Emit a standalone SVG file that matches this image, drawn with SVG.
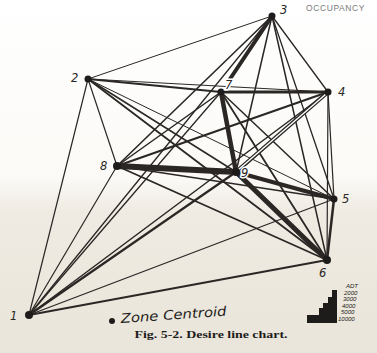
<svg xmlns="http://www.w3.org/2000/svg" width="377" height="353" viewBox="0 0 377 353">
<defs>
<linearGradient id="bg" x1="0" y1="0" x2="0" y2="1">
<stop offset="0" stop-color="#ffffff"/>
<stop offset="0.5" stop-color="#fbfaf7"/>
<stop offset="0.6" stop-color="#efebe2"/>
<stop offset="1" stop-color="#e9e5da"/>
</linearGradient>
<style>
.e{stroke:#2a2725;stroke-linecap:round;fill:none}
.n{fill:#1e1c1a}
.lbl{font-family:"DejaVu Sans","Liberation Sans",sans-serif;font-style:italic;font-size:11.5px;fill:#2a2725}
.halo{stroke:#ffffff;stroke-width:3px;paint-order:stroke}
.leg{font-family:"Liberation Sans","DejaVu Sans",sans-serif;font-style:italic;font-size:6px;fill:#1e1c1a}
</style>
</defs>
<rect width="377" height="353" fill="url(#bg)"/>
<text x="306" y="11" font-family="Liberation Sans, sans-serif" font-size="8.5" fill="#7a7a7a" letter-spacing="0.6">OCCUPANCY</text>
<g id="connectors">
<line class="e" x1="29" y1="315" x2="88" y2="79" stroke-width="1.2"/>
<line class="e" x1="29" y1="315" x2="272" y2="16" stroke-width="1.3"/>
<line class="e" x1="29" y1="315" x2="328" y2="92" stroke-width="1.5"/>
<line class="e" x1="29" y1="315" x2="334" y2="199" stroke-width="1.3"/>
<line class="e" x1="29" y1="315" x2="327" y2="260" stroke-width="1.8"/>
<line class="e" x1="29" y1="315" x2="221" y2="92" stroke-width="1.3"/>
<line class="e" x1="29" y1="315" x2="117" y2="166" stroke-width="1.2"/>
<line class="e" x1="29" y1="315" x2="236" y2="172" stroke-width="2.2"/>
<line class="e" x1="88" y1="79" x2="272" y2="16" stroke-width="1"/>
<line class="e" x1="88" y1="79" x2="328" y2="92" stroke-width="1.2"/>
<line class="e" x1="88" y1="79" x2="334" y2="199" stroke-width="1"/>
<line class="e" x1="88" y1="79" x2="327" y2="260" stroke-width="1.8"/>
<line class="e" x1="88" y1="79" x2="221" y2="92" stroke-width="1.8"/>
<line class="e" x1="88" y1="79" x2="117" y2="166" stroke-width="1.2"/>
<line class="e" x1="88" y1="79" x2="236" y2="172" stroke-width="1.5"/>
<line class="e" x1="272" y1="16" x2="328" y2="92" stroke-width="1.3"/>
<line class="e" x1="272" y1="16" x2="334" y2="199" stroke-width="1.3"/>
<line class="e" x1="272" y1="16" x2="327" y2="260" stroke-width="1.5"/>
<line class="e" x1="272" y1="16" x2="117" y2="166" stroke-width="1.6"/>
<line class="e" x1="272" y1="16" x2="236" y2="172" stroke-width="1.5"/>
<line class="e" x1="328" y1="92" x2="334" y2="199" stroke-width="1.2"/>
<line class="e" x1="328" y1="92" x2="327" y2="260" stroke-width="1.2"/>
<line class="e" x1="328" y1="92" x2="117" y2="166" stroke-width="2"/>
<line class="e" x1="334" y1="199" x2="327" y2="260" stroke-width="2.5"/>
<line class="e" x1="334" y1="199" x2="221" y2="92" stroke-width="1.5"/>
<line class="e" x1="334" y1="199" x2="117" y2="166" stroke-width="1.5"/>
<line class="e" x1="327" y1="260" x2="221" y2="92" stroke-width="1.8"/>
<line class="e" x1="327" y1="260" x2="117" y2="166" stroke-width="1.8"/>
<line class="e" x1="221" y1="92" x2="117" y2="166" stroke-width="1.5"/>
<line class="e" x1="328" y1="92" x2="236" y2="172" stroke-width="4"/>
<line x1="326" y1="94" x2="238" y2="170" stroke="#ffffff" stroke-width="1.4"/>
<line class="e" x1="328" y1="92" x2="221" y2="92" stroke-width="3"/>
<line class="e" x1="272" y1="16" x2="230" y2="79" stroke-width="4"/>
<line class="e" x1="334" y1="199" x2="236" y2="172" stroke-width="4"/>
<line class="e" x1="327" y1="260" x2="236" y2="172" stroke-width="5"/>
<line class="e" x1="221" y1="92" x2="236" y2="172" stroke-width="4.5"/>
<line class="e" x1="117" y1="166" x2="236" y2="172" stroke-width="6"/>
</g>
<g id="node1"><circle class="n" cx="29" cy="315" r="4"/><text class="lbl" x="10" y="320">1</text></g>
<g id="node2"><circle class="n" cx="88" cy="79" r="3.5"/><text class="lbl" x="71" y="82">2</text></g>
<g id="node3"><circle class="n" cx="272" cy="16" r="3.5"/><text class="lbl" x="280" y="14">3</text></g>
<g id="node4"><circle class="n" cx="328" cy="92" r="3.5"/><text class="lbl" x="338" y="96">4</text></g>
<g id="node5"><circle class="n" cx="334" cy="199" r="3.5"/><text class="lbl" x="342" y="203">5</text></g>
<g id="node6"><circle class="n" cx="327" cy="260" r="4"/><text class="lbl" x="319" y="277">6</text></g>
<g id="node7"><circle class="n" cx="221" cy="92" r="3.5"/><text class="lbl halo" x="225" y="89">7</text></g>
<g id="node8"><circle class="n" cx="117" cy="166" r="4"/><text class="lbl" x="100" y="170">8</text></g>
<g id="node9"><circle class="n" cx="236" cy="172" r="4"/><text class="lbl halo" x="241" y="177">9</text></g>
<g id="legend">
<circle class="n" cx="112" cy="321" r="3"/>
<text x="121" y="323" transform="rotate(-4 121 323)" font-family="DejaVu Sans, Liberation Sans, sans-serif" font-style="italic" font-size="13" fill="#1e1c1a" textLength="106" lengthAdjust="spacingAndGlyphs">Zone Centroid</text>
<path d="M307 323 V315 H319 V308 H323 V303 H328 V297 H332 V290 H337 V323 Z" fill="#1e1c1a"/>
<text class="leg" x="346" y="288">ADT</text>
<text class="leg" x="344" y="294.5">2000</text>
<text class="leg" x="343" y="301">3000</text>
<text class="leg" x="342" y="307.5">4000</text>
<text class="leg" x="341" y="314">5000</text>
<text class="leg" x="338" y="321">10000</text>
<text x="211" y="338" text-anchor="middle" font-family="Liberation Serif, serif" font-weight="bold" font-size="10.5" fill="#1e1c1a" textLength="153" lengthAdjust="spacingAndGlyphs">Fig. 5-2. Desire line chart.</text>
</g>
</svg>
